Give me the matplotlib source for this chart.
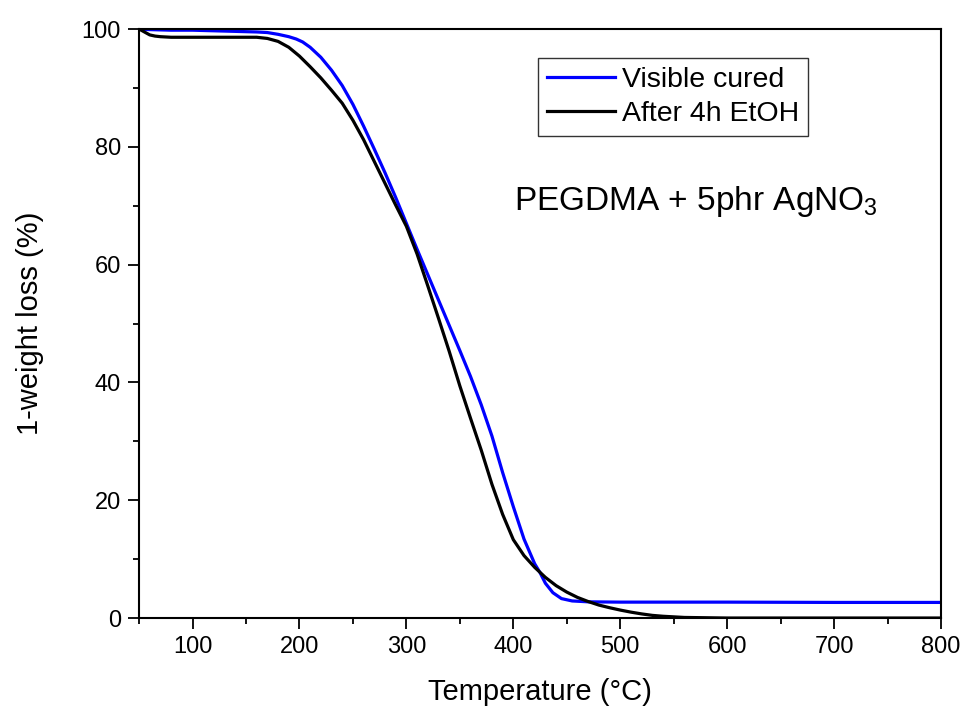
import matplotlib
matplotlib.use("Agg")
import matplotlib.pyplot as plt
from matplotlib.ticker import MultipleLocator, FixedLocator

plt.rcParams['font.family'] = ['Liberation Sans', 'DejaVu Sans']
plt.rcParams['mathtext.default'] = 'regular'

temp_blue = [50, 60, 80, 100, 120, 140, 160, 170, 180, 190, 197, 203, 210, 220, 230, 240,
             250, 260, 270, 280, 290, 300, 310, 320, 330, 340, 350, 360, 370, 380, 390, 400,
             410, 420, 425, 430, 437, 445, 455, 470, 500, 600, 700, 800]
visible_cured = [100, 99.9, 99.8, 99.8, 99.7, 99.6, 99.5, 99.4, 99.1, 98.7, 98.3, 97.8, 96.9,
                 95.2, 93.0, 90.4, 87.2, 83.5, 79.6, 75.6, 71.4, 67.0, 62.6, 58.3, 54.0, 49.7,
                 45.4, 41.0, 36.2, 30.9, 24.7, 18.9, 13.4, 9.2, 7.7, 5.9, 4.3, 3.3, 2.9, 2.75,
                 2.7, 2.7, 2.65, 2.65]

temp_black = [50, 55, 60, 65, 70, 80, 100, 120, 140, 160, 170, 180, 190, 200, 210, 220, 230,
              240, 250, 260, 270, 280, 290, 300, 310, 320, 330, 340, 350, 360, 370, 380, 390,
              400, 410, 420, 430, 440, 450, 460, 470, 480, 490, 500, 510, 520, 530, 540, 550,
              560, 580, 600, 700, 800]
after_etoh = [100, 99.5, 99.0, 98.8, 98.7, 98.6, 98.6, 98.6, 98.6, 98.6, 98.4, 97.9, 96.9, 95.4,
              93.6, 91.7, 89.6, 87.4, 84.5, 81.2, 77.5, 73.8, 70.1, 66.5, 61.8, 56.4, 50.9,
              45.3, 39.4, 33.9, 28.5, 22.7, 17.6, 13.3, 10.6, 8.6, 6.9, 5.5, 4.4, 3.5, 2.8,
              2.2, 1.75, 1.35, 1.0, 0.7, 0.45, 0.3, 0.2, 0.1, 0.05, 0.0, 0.0, 0.0]

x_ticks = [100, 200, 300, 400, 500, 600, 700, 800]
y_ticks = [0, 20, 40, 60, 80, 100]

fig = plt.figure(figsize=(9.65, 7.13), dpi=100)
ax = fig.add_axes([0.1441, 0.1332, 0.8311, 0.8261])

ax.plot(temp_blue, visible_cured, color='#0000FF', lw=2.3, label='Visible cured')
ax.plot(temp_black, after_etoh, color='black', lw=2.3, label='After 4h EtOH')

ax.set_xlim(50, 800)
ax.set_ylim(0, 100)
ax.xaxis.set_major_locator(FixedLocator(x_ticks))
ax.xaxis.set_minor_locator(MultipleLocator(50))
ax.yaxis.set_major_locator(FixedLocator(y_ticks))
ax.yaxis.set_minor_locator(MultipleLocator(10))

ax.tick_params(axis='both', which='major', direction='out', length=8, width=1.3,
               labelsize=17, top=False, right=False, pad=5)
ax.tick_params(axis='both', which='minor', direction='out', length=4.5, width=1.3,
               top=False, right=False)
for s in ax.spines.values():
    s.set_linewidth(1.5)

ax.set_xlabel('Temperature (°C)', fontsize=21, labelpad=14)
ax.set_ylabel('1-weight loss (%)', fontsize=21, labelpad=27)

leg = ax.legend(loc='upper left', bbox_to_anchor=(0.498, 0.9507), fontsize=20.5,
                frameon=True, fancybox=False, edgecolor='black', handlelength=2.4,
                handletextpad=0.25, borderpad=0.3, labelspacing=0.3, borderaxespad=0)
leg.get_frame().set_linewidth(1.0)

ax.text(0.467, 0.708, 'PEGDMA + 5phr AgNO$_3$', transform=ax.transAxes, fontsize=24,
        ha='left', va='center')

fig.savefig('out.png', dpi=100)
